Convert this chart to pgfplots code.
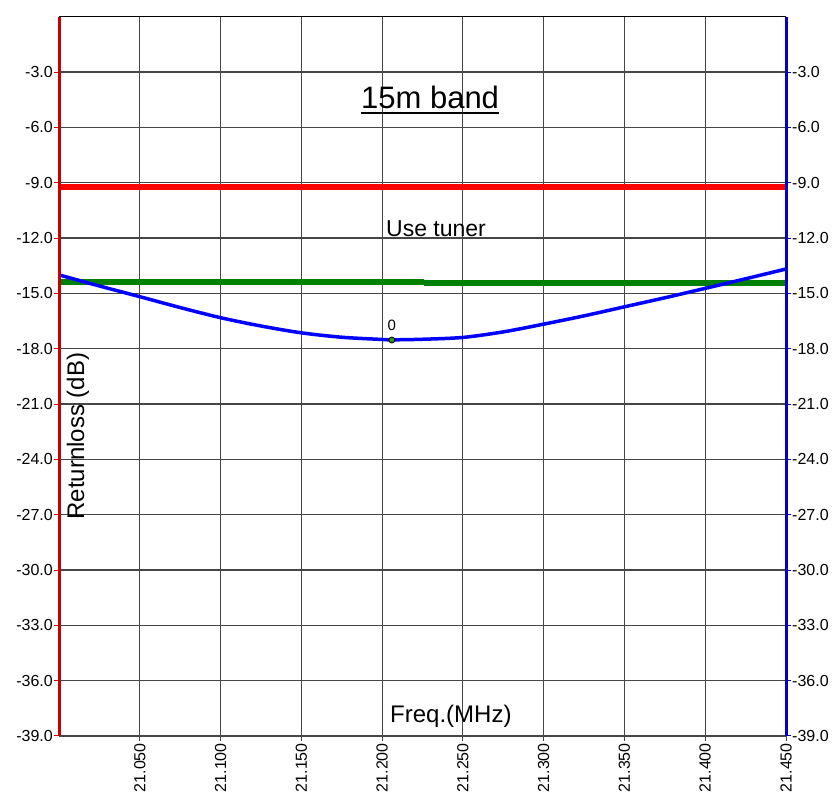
\documentclass[border=0pt]{standalone}
\usepackage{fontspec}
\setmainfont{Liberation Sans}
\usepackage{pgfplots}
\pgfplotsset{compat=1.18}
\definecolor{gridc}{RGB}{70,70,70}
\definecolor{leftred}{RGB}{200,0,0}
\definecolor{rightblue}{RGB}{0,0,200}
\definecolor{lgreen}{RGB}{0,128,0}
\begin{document}
\begin{tikzpicture}[x=1pt,y=1pt]
\pgfplotsset{
  common/.style={
    scale only axis, width=727pt, height=719.3pt,
    at={(59pt,66pt)}, anchor=south west,
    xmin=21.0, xmax=21.45, ymin=-39, ymax=0,
    clip=false,
    ytick={-39,-36,-33,-30,-27,-24,-21,-18,-15,-12,-9,-6,-3},
    xtick={21.05,21.10,21.15,21.20,21.25,21.30,21.35,21.40,21.45},
    /pgf/number format/assume math mode=true,
    tick align=outside,
    major tick length=5pt,
    axis line style={draw=none},
    yticklabel style={font=\fontsize{16}{18}\selectfont, inner sep=1pt,
      /pgf/number format/fixed, /pgf/number format/precision=1, /pgf/number format/fixed zerofill},
    xticklabel style={font=\fontsize{16}{18}\selectfont, rotate=90, anchor=east, inner sep=2pt,
      /pgf/number format/fixed, /pgf/number format/precision=3, /pgf/number format/fixed zerofill,
      /pgf/number format/1000 sep={}},
  }
}
\begin{axis}[common,
  grid=major, grid style={gridc, line width=1.2pt},
  ytick pos=left, xtick pos=bottom,
  y tick style={leftred, line width=1pt},
  x tick style={gridc, line width=1pt},
]
% red limit line
\addplot[red, line width=6pt] coordinates {(21.0,-9.25) (21.45,-9.25)};
% green line with small step
\addplot[lgreen, line width=6pt] coordinates {(21.0,-14.37) (21.226,-14.37)};
\addplot[lgreen, line width=6pt] coordinates {(21.226,-14.42) (21.45,-14.42)};
% return loss curve
\addplot[blue, line width=3.5pt, smooth] coordinates {
 (21.000,-14.00) (21.025,-14.60) (21.050,-15.18) (21.075,-15.77) (21.100,-16.32)
 (21.125,-16.77) (21.150,-17.14) (21.175,-17.38) (21.200,-17.50) (21.206,-17.52)
 (21.225,-17.49) (21.250,-17.39) (21.275,-17.09) (21.300,-16.67) (21.325,-16.22)
 (21.350,-15.73) (21.375,-15.24) (21.400,-14.73) (21.425,-14.21) (21.450,-13.68)};
% marker
\addplot[only marks, mark=*, mark size=3pt, mark options={fill=lgreen!80!yellow, draw=black, line width=0.8pt}]
 coordinates {(21.206,-17.53)};
\node[font=\fontsize{15}{16}\selectfont, anchor=south, inner sep=0pt] at (axis cs:21.206,-17.05) {0};
% frame
\draw[gridc, line width=2.5pt] (rel axis cs:0,0) -- (rel axis cs:1,0);
\draw[black, line width=1pt] (rel axis cs:0,1) -- (rel axis cs:1,1);
\draw[leftred, line width=3pt] (rel axis cs:0,0) -- (rel axis cs:0,1);
\draw[rightblue, line width=3pt] (rel axis cs:1,0) -- (rel axis cs:1,1);
% texts
\node[font=\fontsize{31}{33}\selectfont, inner sep=0pt, anchor=base] (t) at (axis cs:21.2297,-4.99) {15m band};
\draw[black, line width=2pt] ([yshift=-4.5pt]t.base west) -- ([yshift=-4.5pt]t.base east);
\node[font=\fontsize{23}{25}\selectfont, inner sep=0pt, anchor=base] at (axis cs:21.2334,-11.93) {Use tuner};
\node[font=\fontsize{24}{26}\selectfont, inner sep=0pt, rotate=90] at (rel axis cs:0.026,0.417) {Returnloss (dB)};
\node[font=\fontsize{24}{26}\selectfont, inner sep=0pt] at (rel axis cs:0.539,0.028) {Freq.(MHz)};
\end{axis}
\begin{axis}[common,
  hide x axis,
  ytick pos=right, yticklabel pos=right,
  y tick style={rightblue, line width=1pt},
]
\end{axis}
\pgfresetboundingbox
\path[use as bounding box] (0,0) rectangle (840,802);
\end{tikzpicture}
\end{document}
